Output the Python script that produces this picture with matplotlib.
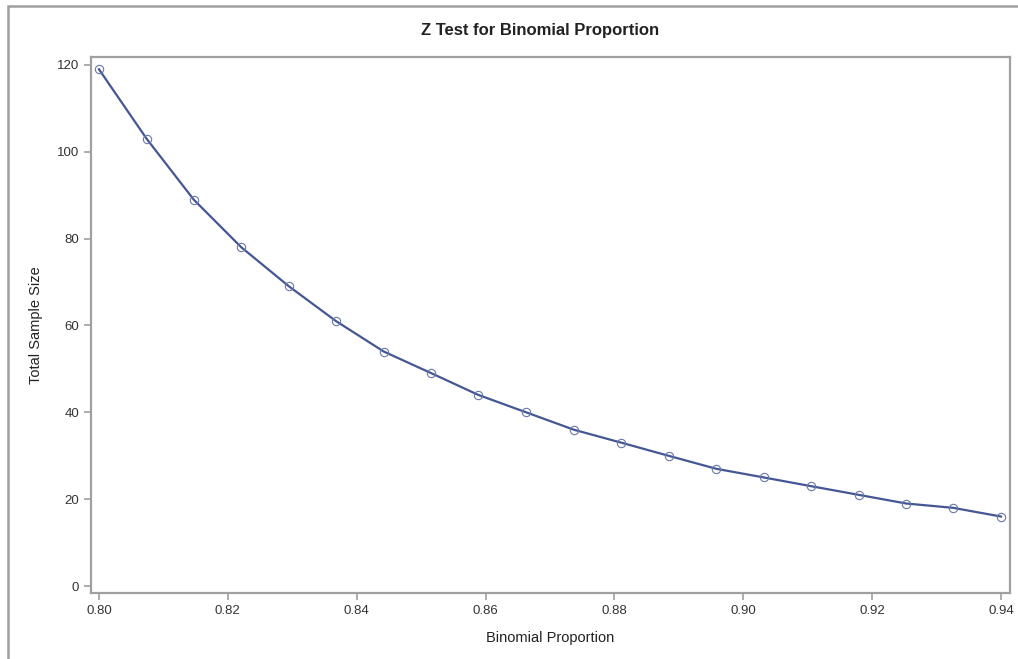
import matplotlib.pyplot as plt
from matplotlib.patches import Rectangle

plt.rcParams['font.family'] = ['Liberation Sans', 'DejaVu Sans']

proportion = [0.8000, 0.8074, 0.8147, 0.8221, 0.8295, 0.8368, 0.8442, 0.8516,
              0.8589, 0.8663, 0.8737, 0.8811, 0.8884, 0.8958, 0.9032, 0.9105,
              0.9179, 0.9253, 0.9326, 0.9400]
sample_size = [119, 103, 89, 78, 69, 61, 54, 49, 44, 40, 36, 33, 30, 27, 25,
               23, 21, 19, 18, 16]
xticks = [0.80, 0.82, 0.84, 0.86, 0.88, 0.90, 0.92, 0.94]
yticks = [0, 20, 40, 60, 80, 100, 120]

fig = plt.figure(figsize=(10.18, 6.59), dpi=100)

# outer graph border (cut off at right/bottom like the original)
fig.patches.append(Rectangle((8 / 1018, -0.1), 1.2, 1 - 6 / 659 + 0.1,
                             transform=fig.transFigure, fill=False,
                             edgecolor='#a0a0a0', linewidth=1.8))

ax = fig.add_axes([91 / 1018, 1 - 593 / 659, (1010 - 91) / 1018, (593 - 57) / 659])
ax.plot(proportion, sample_size, color='#445694', linewidth=1.6, zorder=2)
ax.plot(proportion, sample_size, linestyle='none', marker='o', markersize=6,
        markerfacecolor='none', markeredgecolor='#6a78a8', markeredgewidth=0.8, zorder=3)

ax.set_xlim(0.79876, 0.9414)
ax.set_ylim(-1.61, 121.84)
ax.set_xticks(xticks)
ax.set_xticklabels(['%.2f' % t for t in xticks])
ax.set_yticks(yticks)

for s in ax.spines.values():
    s.set_color('#a0a0a0')
    s.set_linewidth(1.6)
ax.tick_params(colors='#a0a0a0', labelcolor='#333333', labelsize=9.5, length=5, width=1.2)

ax.set_xlabel('Binomial Proportion', fontsize=10.5, color='#222222', labelpad=10)
ax.set_ylabel('Total Sample Size', fontsize=10.5, color='#222222', labelpad=10)
fig.text(540 / 1018, 1 - 31 / 659, 'Z Test for Binomial Proportion',
         ha='center', va='center', fontsize=12, fontweight='bold', color='#222222')

fig.savefig('out.png', dpi=100)
